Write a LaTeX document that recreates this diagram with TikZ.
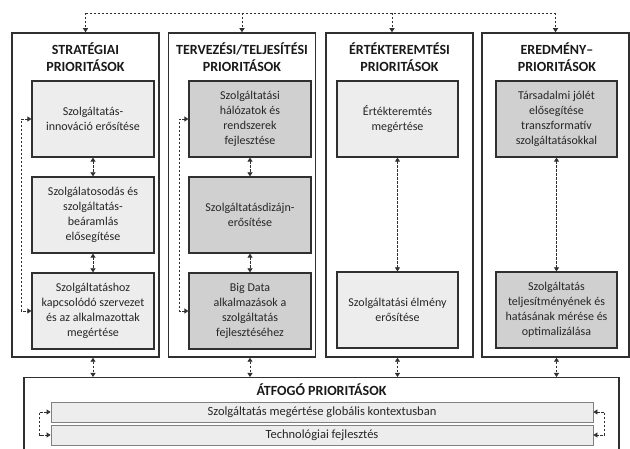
\documentclass[tikz,border=0pt]{standalone}
\usepackage{fontspec}
\setmainfont{Carlito}
\usetikzlibrary{arrows.meta}

\definecolor{lightbox}{HTML}{EDEDED}
\definecolor{darkbox}{HTML}{D0D0D0}
\definecolor{edge}{HTML}{303030}

\tikzset{
    column/.style={draw=edge, line width=1.5pt, minimum width=147pt,
        minimum height=324pt, inner sep=0pt},
    prio/.style={draw=edge, line width=1.3pt, minimum width=122pt,
        minimum height=76pt, inner sep=0pt, align=center, text=black!85,
        font=\fontsize{12}{15}\selectfont},
    lightprio/.style={prio, fill=lightbox},
    darkprio/.style={prio, fill=darkbox},
    heading/.style={font=\bfseries\fontsize{14}{17}\selectfont, align=center,
        text=black!90},
    bar/.style={draw=gray, line width=0.8pt, fill=lightbox, minimum width=542pt,
        minimum height=20pt, inner sep=0pt, text=black!85,
        font=\fontsize{12.5}{14}\selectfont},
    link/.style={draw=edge, line width=0.8pt, dash pattern=on 2.5pt off 1.5pt}
}

\begin{document}
\begin{tikzpicture}[x=1pt, y=-1pt, >={Triangle[width=5pt,length=4pt]}]
    \clip (0,0) rectangle (630,449);
    \fill[white] (0,0) rectangle (630,449);

    \node [column] (strat) at (85.5,195) {};
    \node [column] (terv) at (242,195) {};
    \node [column] (ertek) at (399.5,195) {};
    \node [column] (ered) at (555.5,195) {};

    \node [heading] (strat-t) at (85.5,57) {STRATÉGIAI\\PRIORITÁSOK};
    \node [heading] (terv-t) at (242,57) {TERVEZÉSI/TELJESÍTÉSI\\PRIORITÁSOK};
    \node [heading] (ertek-t) at (399.5,57) {ÉRTÉKTEREMTÉSI\\PRIORITÁSOK};
    \node [heading] (ered-t) at (557,57) {EREDMÉNY–\\PRIORITÁSOK};

    \node [lightprio] (s1) at (93,119) {Szolgáltatás-\\innováció erősítése};
    \node [lightprio] (s2) at (93,215) {Szolgálatosodás és\\szolgáltatás-\\beáramlás\\elősegítése};
    \node [lightprio] (s3) at (93,311) {Szolgáltatáshoz\\kapcsolódó szervezet\\és az alkalmazottak\\megértése};

    \node [darkprio] (t1) at (250,119) {Szolgáltatási\\hálózatok és\\rendszerek\\fejlesztése};
    \node [darkprio] (t2) at (250,215) {Szolgáltatásdizájn-\\erősítése};
    \node [darkprio] (t3) at (250,311) {Big Data\\alkalmazások a\\szolgáltatás\\fejlesztéséhez};

    \node [lightprio, minimum width=121pt] (e1) at (397.5,119) {Értékteremtés\\megértése};
    \node [lightprio, minimum width=121pt] (e2) at (397.5,310) {Szolgáltatási élmény\\erősítése};

    \node [darkprio, minimum width=121pt] (r1) at (556.5,119) {Társadalmi jólét\\elősegítése\\transzformatív\\szolgáltatásokkal};
    \node [darkprio, minimum width=121pt] (r2) at (556.5,310) {Szolgáltatás\\teljesítményének és\\hatásának mérése és\\optimalizálása};

    \node [draw=edge, line width=1.5pt, minimum width=595pt, minimum height=90pt,
        anchor=north] (atfogo) at (321.5,377) {};
    \node [heading] (atfogo-t) at (321.5,390) {ÁTFOGÓ PRIORITÁSOK};
    \node [bar] (bar1) at (322,412) {Szolgáltatás megértése globális kontextusban};
    \node [bar] (bar2) at (322,435) {Technológiai fejlesztés};

    \coordinate (bus) at (0,13);
    \coordinate (ertek-in) at ([xshift=-7.5pt]ertek.north);
    \draw [link] (strat.north |- bus) -- (ered.north |- bus);
    \foreach \col in {strat,terv,ered}
        \draw [link, ->] (\col.north |- bus) -- (\col.north);
    \draw [link, ->] (ertek-in |- bus) -- (ertek-in);

    \draw [link, <->] (s1.south) -- (s2.north);
    \draw [link, <->] (s2.south) -- (s3.north);
    \draw [link, <->] (t1.south) -- (t2.north);
    \draw [link, <->] (t2.south) -- (t3.north);
    \draw [link, <->] (e1.south) -- (e2.north);
    \draw [link, <->] (r1.south) -- (r2.north);

    \draw [link, <->] (s1.west) -- ++(-10,0) |- (s3.west);
    \draw [link, <->] (t1.west) -- ++(-9,0) |- (t3.west);

    \draw [link, <->] (strat.south -| s3.south) -- (atfogo.north -| s3.south);
    \draw [link, <->] (terv.south -| t3.south) -- (atfogo.north -| t3.south);
    \draw [link, <->] (ertek.south -| e2.south) -- (atfogo.north -| e2.south);
    \draw [link, <->] (ered.south -| r2.south) -- (atfogo.north -| r2.south);

    \draw [link, <->] (bar1.west) -- ++(-11,0) |- (bar2.west);
    \draw [link, <->] (bar1.east) -- ++(11,0) |- (bar2.east);
\end{tikzpicture}
\end{document}
